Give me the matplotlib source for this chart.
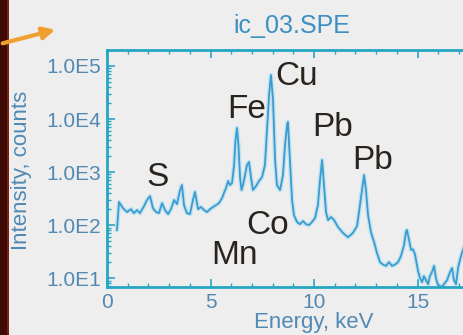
import matplotlib
matplotlib.use("Agg")
import matplotlib.pyplot as plt
import numpy as np
from matplotlib.patches import FancyArrowPatch, Rectangle
from matplotlib.ticker import FuncFormatter, MultipleLocator, LogLocator, FixedLocator

# spectrum (energy in keV, intensity in counts)
energy = [0.48, 0.58, 0.77, 0.97, 1.16, 1.30, 1.45, 1.59, 1.79, 1.93,
          2.08, 2.22, 2.37, 2.51, 2.66, 2.80, 2.95, 3.09, 3.24, 3.38,
          3.53, 3.62, 3.72, 3.86, 4.01, 4.15, 4.25, 4.40, 4.54, 4.69,
          4.83, 4.98, 5.12, 5.27, 5.41, 5.56, 5.65, 5.75, 5.85, 5.94,
          6.04, 6.14, 6.21, 6.28, 6.35, 6.43, 6.50, 6.57, 6.67, 6.76,
          6.86, 6.96, 7.05, 7.20, 7.34, 7.49, 7.63, 7.73, 7.83, 7.92,
          8.02, 8.12, 8.21, 8.36, 8.50, 8.60, 8.70, 8.74, 8.84, 8.94,
          9.03, 9.18, 9.32, 9.47, 9.61, 9.76, 9.90, 10.05, 10.19, 10.29,
          10.39, 10.48, 10.58, 10.68, 10.82, 10.97, 11.16, 11.40, 11.64, 11.88,
          12.08, 12.22, 12.32, 12.42, 12.51, 12.61, 12.75, 12.90, 13.04, 13.19,
          13.33, 13.48, 13.62, 13.77, 13.91, 14.06, 14.20, 14.35, 14.44, 14.49,
          14.59, 14.69, 14.78, 14.88, 15.02, 15.12, 15.22, 15.31, 15.41, 15.51,
          15.60, 15.70, 15.80, 15.89, 15.99, 16.09, 16.18, 16.28, 16.43, 16.57,
          16.67, 16.76, 16.86, 16.96, 17.05, 17.15, 17.30, 17.50]
counts = [81, 272, 209, 176, 200, 168, 192, 168, 228, 296,
          352, 209, 176, 168, 260, 192, 161, 200, 296, 249,
          457, 569, 238, 168, 161, 296, 420, 200, 219, 192,
          176, 200, 219, 238, 260, 323, 402, 499, 676, 569,
          620, 1355, 4018, 6761, 3228, 771, 457, 569, 877, 1355,
          1545, 771, 457, 544, 676, 805, 1355, 6200, 28400, 67600,
          22800, 1683, 569, 457, 877, 3228, 7710, 8780, 1683, 296,
          155, 114, 104, 119, 104, 100, 114, 136, 238, 706,
          1683, 569, 176, 124, 142, 124, 92, 71, 59, 71,
          96, 238, 457, 877, 457, 155, 74, 48, 30, 20,
          18, 17, 20, 17, 18, 20, 26, 42, 74, 81,
          52, 34, 35, 28, 14, 10, 8.4, 10.9, 9.2, 7.7,
          10.9, 13, 17, 10, 7.4, 7.1, 6.8, 7.7, 9.2, 13,
          15.5, 9.2, 7.7, 15.5, 22, 30, 45, 30]

# element labels (text, energy, counts)
peak_names = ["S", "Fe", "Cu", "Pb", "Pb", "Co", "Mn"]
peak_x = [2.45, 6.76, 9.15, 10.92, 12.85, 7.78, 6.18]
peak_y = [780, 14800, 64000, 6800, 1680, 100, 27]

x_ticks = [0, 5, 10, 15]
title = "ic_03.SPE"
x_label = "Energy, keV"
y_label = "Intensity, counts"

bg = "#efeeef"
axis_col = "#27a6c2"
text_col = "#5289b3"
line_col = "#3a9ccf"

plt.rcParams['font.family'] = ['Liberation Sans', 'DejaVu Sans']

fig = plt.figure(figsize=(4.63, 3.35), dpi=100, facecolor=bg)
ax = fig.add_axes([107 / 463, 48 / 335, 414 / 463, 237 / 335])
ax.set_facecolor(bg)

ax.plot(energy, counts, color="#a5dbf2", lw=3.2, alpha=0.6, solid_joinstyle='round')
ax.plot(energy, counts, color=line_col, lw=1.3, solid_joinstyle='round')

ax.set_yscale('log')
ax.set_xlim(0, 20)
ax.set_ylim(6.8, 2.0e5)

ax.xaxis.set_major_locator(FixedLocator(x_ticks))
ax.xaxis.set_minor_locator(MultipleLocator(1))
ax.yaxis.set_minor_locator(LogLocator(base=10, subs=np.arange(2, 10), numticks=20))
ax.set_yticks([10, 100, 1000, 1e4, 1e5])
ax.yaxis.set_major_formatter(FuncFormatter(lambda v, p: "1.0E%d" % int(round(np.log10(v)))))

ax.tick_params(which='both', direction='in', color=axis_col, top=True, right=False,
               labelsize=15, labelcolor=text_col, pad=4)
ax.tick_params(which='major', length=6, width=1.2)
ax.tick_params(which='minor', length=3, width=1.0)

for s in ['left', 'bottom', 'top']:
    ax.spines[s].set_color(axis_col)
    ax.spines[s].set_linewidth(2)
ax.spines['right'].set_visible(False)

ax.set_xlabel(x_label, fontsize=16, color=text_col, labelpad=0)
fig.text(22 / 463, 1 - 170 / 335, y_label, rotation=90, fontsize=16,
         color=text_col, ha='center', va='center')
fig.text(292 / 463, 1 - 26 / 335, title, fontsize=18, color="#3b8fc2",
         ha='center', va='center')

for name, x, y in zip(peak_names, peak_x, peak_y):
    ax.text(x, y, name, fontsize=24, color="#2a241f", ha='center', va='center')

# dark strip and orange arrow at the left edge of the slide
fig.add_artist(Rectangle((0, 0), 7 / 463, 1, transform=fig.transFigure,
                         facecolor="#3e0a05", edgecolor='none'))
fig.add_artist(Rectangle((7 / 463, 0), 2 / 463, 1, transform=fig.transFigure,
                         facecolor="#7a1e0e", edgecolor='none'))
arrow = FancyArrowPatch((0.0, 1 - 44 / 335), (58 / 463, 1 - 29 / 335),
                        transform=fig.transFigure, arrowstyle='-|>',
                        mutation_scale=18, color="#f0a030", lw=3)
fig.add_artist(arrow)

fig.savefig("out.png", dpi=100, facecolor=bg)
